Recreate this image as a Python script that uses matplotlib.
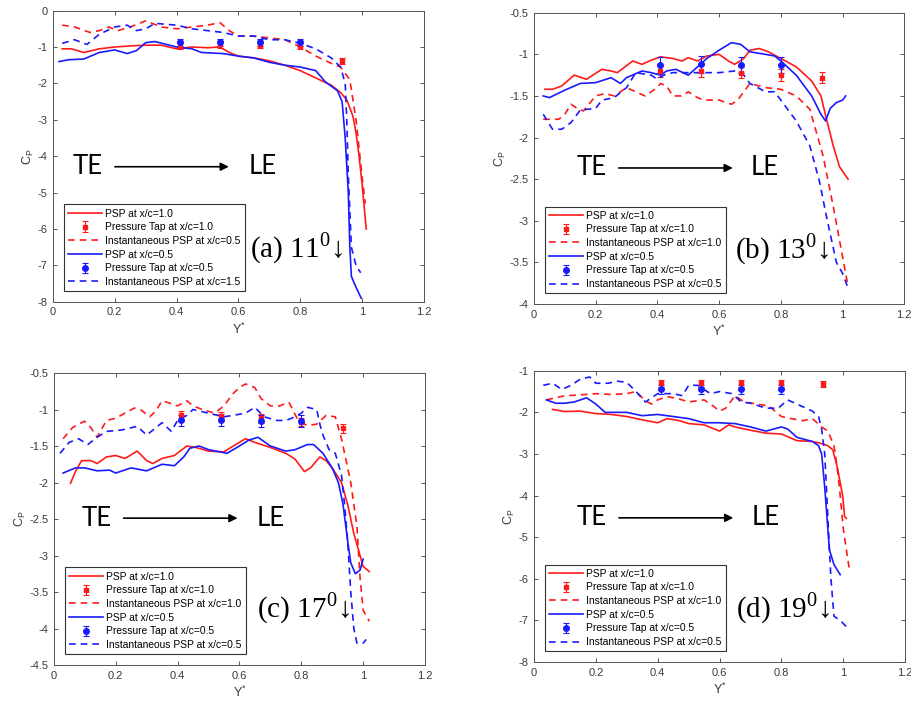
import numpy as np
import matplotlib.pyplot as plt
from matplotlib.ticker import FormatStrFormatter

plt.rcParams['font.family'] = ['Liberation Sans', 'DejaVu Sans']
plt.rcParams['mathtext.fontset'] = 'custom'
plt.rcParams['mathtext.rm'] = 'Liberation Serif'
plt.rcParams['mathtext.sf'] = 'Liberation Sans'

# pressure tap stations (Y*)
TAP_X = [0.41, 0.54, 0.67, 0.80, 0.935]

# ---------------- (a) 11 deg ----------------
A_PSP1_X = [0.03, 0.06, 0.10, 0.15, 0.20, 0.25, 0.30, 0.35, 0.40, 0.45, 0.50, 0.54, 0.57, 0.60, 0.65,
            0.70, 0.75, 0.80, 0.85, 0.90, 0.93, 0.95, 0.97, 0.98, 0.99, 1.00, 1.013]
A_PSP1_Y = [-1.05, -1.05, -1.15, -1.05, -1.0, -0.97, -0.95, -0.95, -1.05, -1.0, -1.02, -1.0, -1.15, -1.25, -1.3,
            -1.38, -1.5, -1.65, -1.85, -2.05, -2.25, -2.45, -2.9, -3.36, -4.0, -4.8, -6.0]
A_INST1_X = [0.03, 0.07, 0.12, 0.15, 0.18, 0.21, 0.25, 0.30, 0.35, 0.40, 0.45, 0.50, 0.54, 0.57, 0.60, 0.65,
             0.70, 0.75, 0.80, 0.85, 0.90, 0.93, 0.96, 0.98, 0.99, 1.00, 1.01]
A_INST1_Y = [-0.4, -0.45, -0.6, -0.55, -0.45, -0.55, -0.45, -0.28, -0.45, -0.5, -0.45, -0.4, -0.33, -0.55, -0.7, -0.7,
             -0.75, -0.8, -1.0, -1.25, -1.45, -1.55, -1.9, -3.0, -3.8, -4.6, -5.3]
A_PSP5_X = [0.02, 0.05, 0.10, 0.15, 0.20, 0.24, 0.27, 0.30, 0.33, 0.40, 0.45, 0.48, 0.55, 0.60, 0.65, 0.70,
            0.75, 0.80, 0.85, 0.88, 0.92, 0.935, 0.945, 0.955, 0.96, 0.965, 0.98, 0.997]
A_PSP5_Y = [-1.4, -1.35, -1.33, -1.15, -1.08, -1.18, -1.1, -0.88, -0.85, -1.0, -1.05, -1.15, -1.18, -1.25, -1.3, -1.42,
            -1.5, -1.55, -1.65, -1.95, -2.2, -2.5, -3.5, -5.0, -6.5, -7.3, -7.6, -7.9]
A_INST5_X = [0.03, 0.07, 0.11, 0.15, 0.20, 0.24, 0.27, 0.30, 0.33, 0.40, 0.45, 0.50, 0.55, 0.60, 0.65, 0.70,
             0.75, 0.80, 0.85, 0.90, 0.93, 0.945, 0.95, 0.955, 0.96, 0.965, 0.98, 0.995]
A_INST5_Y = [-0.9, -0.8, -0.93, -0.65, -0.45, -0.4, -0.55, -0.5, -0.35, -0.4, -0.5, -0.55, -0.6, -0.7, -0.7, -0.8,
             -0.8, -0.9, -1.05, -1.3, -1.55, -2.0, -3.0, -4.5, -5.5, -6.5, -7.0, -7.2]
A_TAP1_Y = [-0.97, -0.93, -0.95, -0.97, -1.38]
A_TAP1_E = [0.09, 0.09, 0.09, 0.09, 0.09]
A_TAP5_Y = [-0.87, -0.87, -0.87, -0.87]
A_TAP5_E = [0.1, 0.1, 0.1, 0.1]

# ---------------- (b) 13 deg ----------------
B_PSP1_X = [0.035, 0.06, 0.09, 0.13, 0.17, 0.22, 0.25, 0.27, 0.32, 0.35, 0.38, 0.41, 0.45, 0.48, 0.50, 0.53,
            0.56, 0.60, 0.63, 0.65, 0.68, 0.70, 0.73, 0.76, 0.80, 0.85, 0.90, 0.93, 0.948, 0.97, 0.99, 1.018]
B_PSP1_Y = [-1.42, -1.42, -1.38, -1.25, -1.3, -1.18, -1.2, -1.22, -1.08, -1.12, -1.07, -1.03, -1.05, -1.08, -1.04, -1.08,
            -1.02, -1.0, -1.08, -1.12, -1.05, -0.95, -0.93, -0.97, -1.05, -1.15, -1.32, -1.5, -1.78, -2.1, -2.35, -2.5]
B_INST1_X = [0.03, 0.08, 0.10, 0.12, 0.14, 0.16, 0.20, 0.23, 0.26, 0.30, 0.33, 0.36, 0.40, 0.41, 0.43, 0.45,
             0.48, 0.50, 0.53, 0.55, 0.60, 0.64, 0.66, 0.68, 0.70, 0.75, 0.80, 0.85, 0.894, 0.937, 0.97, 1.0, 1.018]
B_INST1_Y = [-1.78, -1.78, -1.72, -1.6, -1.65, -1.68, -1.5, -1.47, -1.5, -1.4, -1.45, -1.5, -1.4, -1.35, -1.38, -1.5,
             -1.5, -1.45, -1.52, -1.55, -1.55, -1.6, -1.55, -1.45, -1.35, -1.4, -1.42, -1.5, -1.66, -2.22, -2.83, -3.43, -3.79]
B_PSP5_X = [0.03, 0.05, 0.10, 0.15, 0.20, 0.25, 0.28, 0.30, 0.35, 0.38, 0.41, 0.43, 0.46, 0.50, 0.53, 0.56,
            0.60, 0.64, 0.67, 0.70, 0.75, 0.78, 0.80, 0.85, 0.90, 0.93, 0.945, 0.96, 0.98, 1.0, 1.01]
B_PSP5_Y = [-1.5, -1.52, -1.43, -1.35, -1.34, -1.28, -1.35, -1.28, -1.2, -1.22, -1.25, -1.2, -1.18, -1.25, -1.15, -1.05,
            -0.95, -0.86, -0.88, -0.97, -1.0, -1.02, -1.08, -1.25, -1.5, -1.72, -1.8, -1.65, -1.58, -1.55, -1.5]
B_INST5_X = [0.03, 0.06, 0.09, 0.12, 0.15, 0.20, 0.22, 0.26, 0.30, 0.33, 0.38, 0.40, 0.42, 0.45, 0.50, 0.55,
             0.60, 0.65, 0.68, 0.70, 0.75, 0.78, 0.80, 0.85, 0.894, 0.926, 0.948, 0.98, 1.0, 1.02]
B_INST5_Y = [-1.72, -1.9, -1.9, -1.82, -1.67, -1.65, -1.55, -1.52, -1.4, -1.22, -1.25, -1.3, -1.25, -1.22, -1.22, -1.22,
             -1.22, -1.2, -1.25, -1.35, -1.45, -1.45, -1.55, -1.8, -2.1, -2.54, -2.95, -3.5, -3.63, -3.83]
B_TAP1_Y = [-1.2, -1.2, -1.22, -1.25, -1.28]
B_TAP1_E = [0.07, 0.07, 0.07, 0.07, 0.07]
B_TAP5_Y = [-1.13, -1.12, -1.13, -1.13]
B_TAP5_E = [0.1, 0.1, 0.1, 0.1]

# ---------------- (c) 17 deg ----------------
C_PSP1_X = [0.054, 0.07, 0.09, 0.12, 0.14, 0.17, 0.20, 0.23, 0.27, 0.30, 0.32, 0.35, 0.39, 0.43, 0.46, 0.50,
            0.55, 0.58, 0.62, 0.65, 0.70, 0.75, 0.78, 0.81, 0.83, 0.86, 0.88, 0.90, 0.93, 0.95, 0.97, 0.99, 1.0, 1.02]
C_PSP1_Y = [-2.01, -1.85, -1.7, -1.7, -1.74, -1.65, -1.63, -1.67, -1.57, -1.7, -1.74, -1.67, -1.63, -1.5, -1.52, -1.57,
            -1.58, -1.5, -1.4, -1.45, -1.52, -1.6, -1.68, -1.85, -1.8, -1.65, -1.7, -1.8, -2.0, -2.3, -2.7, -3.0, -3.15, -3.22]
C_INST1_X = [0.03, 0.06, 0.08, 0.10, 0.12, 0.14, 0.17, 0.20, 0.23, 0.26, 0.28, 0.31, 0.33, 0.35, 0.38, 0.40,
             0.43, 0.45, 0.48, 0.52, 0.55, 0.58, 0.60, 0.62, 0.65, 0.67, 0.70, 0.73, 0.76, 0.79, 0.82, 0.85,
             0.88, 0.91, 0.93, 0.96, 0.98, 0.99, 1.0, 1.02]
C_INST1_Y = [-1.4, -1.25, -1.2, -1.16, -1.25, -1.38, -1.15, -1.12, -1.05, -0.98, -1.0, -1.1, -1.02, -0.88, -0.92, -0.95,
             -0.88, -0.95, -1.0, -1.05, -0.95, -0.78, -0.7, -0.65, -0.7, -0.85, -0.95, -0.95, -0.9, -1.15, -1.22, -1.2,
             -1.08, -1.1, -1.4, -2.0, -2.6, -3.3, -3.75, -3.9]
C_PSP5_X = [0.03, 0.07, 0.10, 0.14, 0.18, 0.20, 0.25, 0.30, 0.35, 0.39, 0.42, 0.44, 0.47, 0.50, 0.56, 0.60,
            0.63, 0.66, 0.70, 0.75, 0.78, 0.82, 0.84, 0.87, 0.90, 0.92, 0.935, 0.95, 0.96, 0.975, 0.99, 1.0]
C_PSP5_Y = [-1.87, -1.8, -1.8, -1.84, -1.83, -1.87, -1.8, -1.84, -1.75, -1.77, -1.65, -1.53, -1.5, -1.55, -1.6, -1.5,
            -1.42, -1.38, -1.5, -1.57, -1.55, -1.48, -1.48, -1.6, -1.8, -2.0, -2.3, -2.8, -3.1, -3.25, -3.2, -3.05]
C_INST5_X = [0.02, 0.05, 0.08, 0.11, 0.14, 0.17, 0.22, 0.27, 0.30, 0.33, 0.35, 0.38, 0.40, 0.43, 0.45, 0.50,
             0.55, 0.58, 0.62, 0.65, 0.68, 0.72, 0.75, 0.78, 0.80, 0.82, 0.85, 0.86, 0.87, 0.89, 0.91, 0.93,
             0.94, 0.95, 0.96, 0.97, 0.98, 1.0, 1.01]
C_INST5_Y = [-1.6, -1.45, -1.4, -1.48, -1.38, -1.3, -1.28, -1.23, -1.35, -1.25, -1.18, -1.3, -1.15, -1.08, -1.0, -1.05,
             -1.1, -1.08, -1.05, -0.97, -1.1, -1.15, -1.15, -1.1, -1.05, -0.97, -1.0, -1.2, -1.35, -1.55, -1.6, -1.9,
             -2.3, -2.8, -3.5, -4.0, -4.2, -4.2, -4.15]
C_TAP1_Y = [-1.08, -1.09, -1.12, -1.17, -1.26]
C_TAP1_E = [0.06, 0.06, 0.06, 0.06, 0.06]
C_TAP5_Y = [-1.15, -1.14, -1.16, -1.16]
C_TAP5_E = [0.08, 0.08, 0.08, 0.08]

# ---------------- (d) 19 deg ----------------
D_PSP1_X = [0.06, 0.10, 0.15, 0.20, 0.25, 0.30, 0.35, 0.40, 0.43, 0.47, 0.50, 0.55, 0.60, 0.63, 0.65, 0.70,
            0.75, 0.80, 0.85, 0.90, 0.93, 0.95, 0.966, 0.98, 0.998, 1.004, 1.01]
D_PSP1_Y = [-1.93, -1.98, -1.97, -2.03, -2.05, -2.1, -2.18, -2.25, -2.15, -2.2, -2.27, -2.3, -2.45, -2.3, -2.35, -2.43,
            -2.5, -2.52, -2.68, -2.7, -2.75, -2.8, -2.9, -3.3, -4.0, -4.5, -4.55]
D_INST1_X = [0.04, 0.07, 0.10, 0.15, 0.20, 0.25, 0.30, 0.33, 0.36, 0.38, 0.40, 0.43, 0.47, 0.50, 0.55, 0.58,
             0.60, 0.62, 0.65, 0.68, 0.72, 0.76, 0.80, 0.83, 0.87, 0.90, 0.93, 0.95, 0.97, 0.98, 0.99, 1.0, 1.01, 1.02]
D_INST1_Y = [-1.7, -1.65, -1.6, -1.58, -1.55, -1.57, -1.55, -1.5, -1.72, -1.8, -1.7, -1.62, -1.68, -1.75, -1.7, -1.85,
             -1.97, -1.9, -1.6, -1.75, -1.8, -1.85, -2.1, -2.15, -2.2, -2.15, -2.35, -2.45, -2.8, -3.3, -4.0, -4.8, -5.3, -5.8]
D_PSP5_X = [0.04, 0.07, 0.10, 0.13, 0.17, 0.20, 0.23, 0.27, 0.30, 0.35, 0.40, 0.45, 0.50, 0.55, 0.60, 0.65,
            0.70, 0.75, 0.80, 0.82, 0.85, 0.90, 0.92, 0.93, 0.94, 0.955, 0.97, 0.99]
D_PSP5_Y = [-1.7, -1.78, -1.78, -1.75, -1.65, -1.8, -2.0, -2.0, -2.0, -2.08, -2.05, -2.1, -2.15, -2.25, -2.25, -2.27,
            -2.35, -2.45, -2.35, -2.4, -2.6, -2.7, -2.8, -3.0, -3.8, -5.3, -5.66, -5.9]
D_INST5_X = [0.03, 0.06, 0.09, 0.12, 0.15, 0.18, 0.20, 0.24, 0.27, 0.30, 0.33, 0.36, 0.40, 0.45, 0.48, 0.50,
             0.53, 0.57, 0.60, 0.64, 0.67, 0.70, 0.75, 0.79, 0.82, 0.85, 0.90, 0.92, 0.93, 0.94, 0.95, 0.96,
             0.97, 0.99, 1.01]
D_INST5_Y = [-1.35, -1.3, -1.45, -1.35, -1.2, -1.15, -1.3, -1.3, -1.25, -1.28, -1.5, -1.75, -1.55, -1.55, -1.6, -1.35,
             -1.35, -1.55, -1.5, -1.55, -1.75, -1.78, -1.9, -1.9, -1.7, -1.8, -1.97, -2.1, -2.4, -3.0, -4.5, -6.0,
             -6.9, -7.0, -7.15]
D_TAP1_Y = [-1.3, -1.3, -1.3, -1.3, -1.32]
D_TAP1_E = [0.08, 0.08, 0.08, 0.08, 0.08]
D_TAP5_Y = [-1.45, -1.45, -1.45, -1.45]
D_TAP5_E = [0.1, 0.1, 0.1, 0.1]

LABELS_A = ['PSP at x/c=1.0', 'Pressure Tap at x/c=1.0', 'Instantaneous PSP at x/c=0.5',
            'PSP at x/c=0.5', 'Pressure Tap at x/c=0.5', 'Instantaneous PSP at x/c=1.5']
LABELS = ['PSP at x/c=1.0', 'Pressure Tap at x/c=1.0', 'Instantaneous PSP at x/c=1.0',
          'PSP at x/c=0.5', 'Pressure Tap at x/c=0.5', 'Instantaneous PSP at x/c=0.5']

GRAY = '#3a3a3a'
RED = '#ff1a1a'
BLUE = '#1a1aff'

fig = plt.figure(figsize=(9.12, 7.07), dpi=100)
axa = fig.add_axes([0.058, 0.573, 0.407, 0.412])
axb = fig.add_axes([0.5855, 0.570, 0.406, 0.412])
axc = fig.add_axes([0.059, 0.0594, 0.407, 0.413])
axd = fig.add_axes([0.5855, 0.0636, 0.407, 0.412])


def panel(ax, psp1, inst1, psp5, inst5, tap1, tap5, labels, ylim, ystep, yfmt,
          te_pos, arrow_end, le_x, tag, tag_pos):
    h1, = ax.plot(psp1[0], psp1[1], '-', color=RED, lw=1.2)
    h2 = ax.errorbar(TAP_X, tap1[0], yerr=tap1[1], fmt='s', color=RED, ms=3.5,
                     capsize=2.5, elinewidth=0.8, capthick=0.8)
    h3, = ax.plot(inst1[0], inst1[1], '--', color=RED, lw=1.2, dashes=(4, 3))
    h4, = ax.plot(psp5[0], psp5[1], '-', color=BLUE, lw=1.2)
    h5 = ax.errorbar(TAP_X[:4], tap5[0], yerr=tap5[1], fmt='o', color=BLUE, ms=4,
                     capsize=2.5, elinewidth=0.8, capthick=0.8)
    h6, = ax.plot(inst5[0], inst5[1], '--', color=BLUE, lw=1.2, dashes=(4, 3))

    ax.set_xlim(0, 1.2)
    ax.set_ylim(*ylim)
    ax.set_xticks(np.arange(0, 1.21, 0.2))
    ax.set_yticks(np.arange(ylim[0], ylim[1] + 1e-9, ystep))
    ax.xaxis.set_major_formatter(FormatStrFormatter('%g'))
    ax.yaxis.set_major_formatter(FormatStrFormatter(yfmt))
    ax.tick_params(direction='in', length=3, width=0.6, top=True, right=True,
                   labelsize=8, colors=GRAY, pad=4)
    for s in ax.spines.values():
        s.set_color('#555555')
        s.set_linewidth(0.7)
    ax.set_xlabel(r'Y$^{\mathsf{*}}$', fontsize=9, color=GRAY, labelpad=3)
    ax.set_ylabel(r'C$_{\mathsf{P}}$', fontsize=9, color=GRAY, labelpad=1)

    leg = ax.legend([h1, h2, h3, h4, h5, h6], labels, loc='lower left',
                    bbox_to_anchor=(0.03, 0.037), borderaxespad=0, fontsize=7.4,
                    handlelength=3.3, handletextpad=0.3, labelspacing=0.36,
                    borderpad=0.4, fancybox=False, framealpha=1)
    leg.get_frame().set_edgecolor('#333333')
    leg.get_frame().set_linewidth(0.8)

    ax.text(te_pos[0], te_pos[1], 'TE', transform=ax.transAxes, fontsize=18.5,
            family='Lato', va='center', ha='left')
    ax.annotate('', xy=(arrow_end[1], te_pos[1]), xytext=(arrow_end[0], te_pos[1]),
                xycoords='axes fraction',
                arrowprops=dict(arrowstyle='-|>', color='k', lw=1.2, mutation_scale=12,
                                shrinkA=0, shrinkB=0))
    ax.text(le_x, te_pos[1], 'LE', transform=ax.transAxes, fontsize=18.5,
            family='Lato', va='center', ha='left')
    ax.text(tag_pos[0], tag_pos[1], tag, transform=ax.transAxes, fontsize=21,
            family=['Liberation Serif', 'DejaVu Serif'], va='baseline', ha='left')


panel(axa, (A_PSP1_X, A_PSP1_Y), (A_INST1_X, A_INST1_Y), (A_PSP5_X, A_PSP5_Y),
      (A_INST5_X, A_INST5_Y), (A_TAP1_Y, A_TAP1_E), (A_TAP5_Y, A_TAP5_E), LABELS_A,
      (-8, 0), 1, '%g', (0.054, 0.464), (0.167, 0.474), 0.526,
      r'(a) 11$^{0}$↓', (0.531, 0.155))
panel(axb, (B_PSP1_X, B_PSP1_Y), (B_INST1_X, B_INST1_Y), (B_PSP5_X, B_PSP5_Y),
      (B_INST5_X, B_INST5_Y), (B_TAP1_Y, B_TAP1_E), (B_TAP5_Y, B_TAP5_E), LABELS,
      (-4, -0.5), 0.5, '%g', (0.115, 0.467), (0.229, 0.537), 0.586,
      r'(b) 13$^{0}$↓', (0.543, 0.158))
panel(axc, (C_PSP1_X, C_PSP1_Y), (C_INST1_X, C_INST1_Y), (C_PSP5_X, C_PSP5_Y),
      (C_INST5_X, C_INST5_Y), (C_TAP1_Y, C_TAP1_E), (C_TAP5_Y, C_TAP5_E), LABELS,
      (-4.5, -0.5), 0.5, '%g', (0.075, 0.503), (0.188, 0.495), 0.547,
      r'(c) 17$^{0}$↓', (0.547, 0.164))
panel(axd, (D_PSP1_X, D_PSP1_Y), (D_INST1_X, D_INST1_Y), (D_PSP5_X, D_PSP5_Y),
      (D_INST5_X, D_INST5_Y), (D_TAP1_Y, D_TAP1_E), (D_TAP5_Y, D_TAP5_E), LABELS,
      (-8, -1), 1, '%g', (0.115, 0.495), (0.229, 0.537), 0.586,
      r'(d) 19$^{0}$↓', (0.543, 0.155))

fig.savefig('out.png', dpi=100)
